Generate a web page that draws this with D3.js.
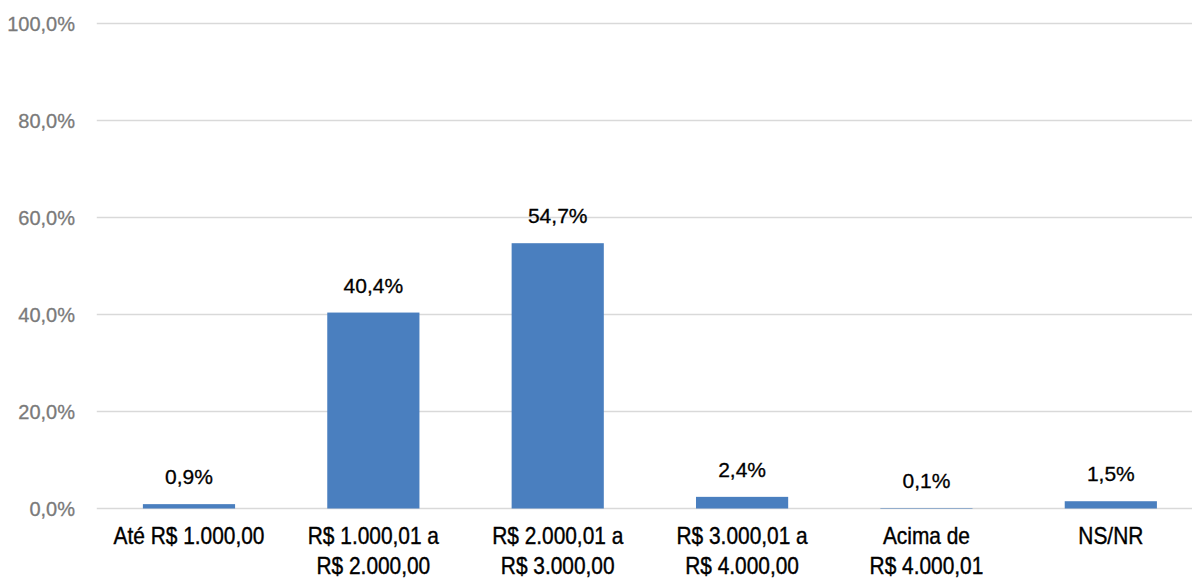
<!DOCTYPE html>
<html>
<head>
<meta charset="utf-8">
<script src="https://cdn.jsdelivr.net/npm/d3@7"></script>
<style>
  html, body { margin: 0; padding: 0; background: #ffffff; }
  svg { display: block; }
</style>
</head>
<body>
<svg id="chart" width="1192" height="578"></svg>
<script>
const categories = [
  ["Até R$ 1.000,00"],
  ["R$ 1.000,01 a", "R$ 2.000,00"],
  ["R$ 2.000,01 a", "R$ 3.000,00"],
  ["R$ 3.000,01 a", "R$ 4.000,00"],
  ["Acima de", "R$ 4.000,01"],
  ["NS/NR"]
];
const values = [0.9, 40.4, 54.7, 2.4, 0.1, 1.5];
const yTicks = [0, 20, 40, 60, 80, 100];

const fmt = v => v.toFixed(1).replace(".", ",") + "%";

const svg = d3.select("#chart");
const x = d3.scaleBand()
  .domain(categories.map((c, i) => i))
  .range([96.8, 1203])
  .paddingInner(0.5)
  .paddingOuter(0.25);
const y = d3.scaleLinear().domain([0, 100]).range([508.5, 23.5]);

// gridlines
svg.append("g")
  .selectAll("line")
  .data(yTicks)
  .join("line")
  .attr("x1", 96.8).attr("x2", 1203)
  .attr("y1", d => y(d)).attr("y2", d => y(d))
  .attr("stroke", "#d9d9d9")
  .attr("stroke-width", 1.5);

// y axis labels
const yAxis = svg.append("g")
  .attr("transform", "translate(75,0)")
  .call(d3.axisLeft(y).tickValues(yTicks).tickFormat(d => fmt(d)).tickSize(0).tickPadding(0));
yAxis.select(".domain").remove();
yAxis.selectAll("text")
  .attr("fill", "#7a7a7a")
  .attr("stroke", "#7a7a7a")
  .attr("stroke-width", 0.3)
  .attr("dy", "0.36em")
  .style("font-family", "'Liberation Sans', Arial, sans-serif")
  .style("font-size", "20px");

// bars
svg.append("g")
  .selectAll("rect")
  .data(values)
  .join("rect")
  .attr("x", (d, i) => x(i))
  .attr("width", x.bandwidth())
  .attr("y", d => y(d))
  .attr("height", d => y(0) - y(d))
  .attr("fill", "#4a7fbf");

// data labels
svg.append("g")
  .selectAll("text")
  .data(values)
  .join("text")
  .attr("x", (d, i) => x(i) + x.bandwidth() / 2)
  .attr("y", d => y(d) - 20)
  .attr("text-anchor", "middle")
  .attr("fill", "#000")
  .attr("stroke", "#000")
  .attr("stroke-width", 0.3)
  .style("font-family", "'Liberation Sans', Arial, sans-serif")
  .style("font-size", "21px")
  .text(d => fmt(d));

// x axis labels (condensed horizontally to mimic the narrow face)
const xl = svg.append("g")
  .selectAll("text")
  .data(categories)
  .join("text")
  .attr("transform", (d, i) => `translate(${x(i) + x.bandwidth() / 2},544) scale(0.87,1)`)
  .attr("text-anchor", "middle")
  .attr("fill", "#000")
  .attr("stroke", "#000")
  .attr("stroke-width", 0.4)
  .style("font-family", "'Liberation Sans', Arial, sans-serif")
  .style("font-size", "24px");
xl.selectAll("tspan")
  .data(d => d)
  .join("tspan")
  .attr("x", 0)
  .attr("dy", (d, i) => i === 0 ? 0 : 30)
  .text(d => d);
</script>
</body>
</html>
